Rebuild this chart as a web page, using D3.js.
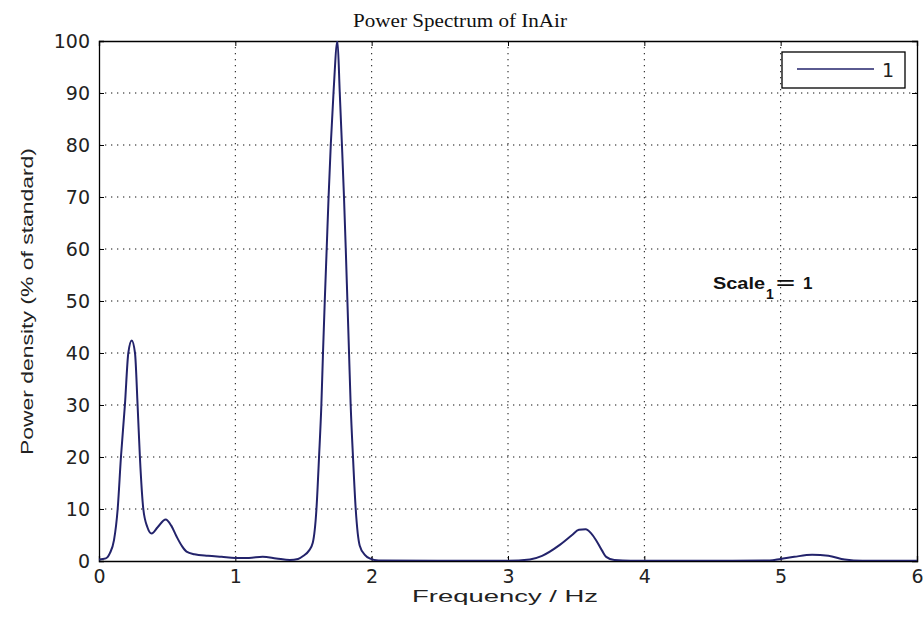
<!DOCTYPE html>
<html>
<head>
<meta charset="utf-8">
<script src="https://cdn.jsdelivr.net/npm/d3@7"></script>
<style>
    body { margin: 0; background: #fff; }
    .tick text { font-family: "DejaVu Sans", Arial, sans-serif; font-size: 19px; fill: #222; }
    .grid line { stroke: #111; stroke-dasharray: 1.3,4.7; }
</style>
</head>
<body>
<div id="chart"></div>
<script>
// frequency (Hz) and power density (% of standard)
var freq = [0.00, 0.05, 0.08, 0.11, 0.137, 0.161, 0.19, 0.215, 0.24, 0.264, 0.283, 0.30, 0.325, 0.355, 0.386,
    0.43, 0.489, 0.53, 0.569, 0.61, 0.642, 0.70, 0.80, 0.90, 1.00, 1.10, 1.20, 1.30, 1.40, 1.46, 1.50, 1.54,
    1.568, 1.595, 1.614, 1.631, 1.643, 1.656, 1.670, 1.684, 1.700, 1.720, 1.749, 1.766, 1.782, 1.797, 1.81,
    1.822, 1.834, 1.846, 1.863, 1.883, 1.912, 1.95, 1.985, 2.05, 2.5, 3.0, 3.16, 3.25, 3.38, 3.47, 3.52, 3.57,
    3.61, 3.646, 3.69, 3.72, 3.78, 3.9, 4.5, 4.92, 5.0, 5.1, 5.23, 5.35, 5.47, 5.6, 6.0];
var power = [0.3, 0.5, 1.5, 4, 10, 20, 30, 40, 42.4, 40, 30, 20, 10, 6.5, 5.3,
    6.5, 8.0, 6.8, 4.7, 2.8, 1.8, 1.3, 1.0, 0.8, 0.6, 0.6, 0.8, 0.5, 0.2, 0.4, 1.0, 2.0,
    3.5, 10, 20, 30, 40, 50, 60, 70, 80, 90, 100, 90, 80, 70, 60,
    50, 40, 30, 20, 10, 3, 1.2, 0.5, 0.1, 0.05, 0.05, 0.3, 1.0, 3.1, 5.0, 6.0, 6.1,
    5.3, 4.0, 2.0, 0.8, 0.2, 0.05, 0.05, 0.1, 0.4, 0.8, 1.2, 1.0, 0.3, 0.05, 0.05];
var xTicks = [0, 1, 2, 3, 4, 5, 6];
var yTicks = [0, 10, 20, 30, 40, 50, 60, 70, 80, 90, 100];
var legendLabels = ["1"];

var width = 923, height = 623;
var margin = { top: 41, right: 6, bottom: 62, left: 99 };
var w = width - margin.left - margin.right;
var h = height - margin.top - margin.bottom;
var lineColor = "#23236b";

var svg = d3.select("#chart").append("svg")
    .attr("width", width)
    .attr("height", height)
    .style("font-family", "Liberation Sans, Arial, sans-serif");

var g = svg.append("g")
    .attr("transform", "translate(" + margin.left + "," + margin.top + ")");

var x = d3.scaleLinear().domain([0, 6]).range([0, w]);
var y = d3.scaleLinear().domain([0, 100]).range([h, 0]);

// dotted grid
g.append("g").attr("class", "grid")
    .selectAll("line").data(xTicks.slice(1, -1)).enter().append("line")
    .attr("x1", function (d) { return x(d); }).attr("x2", function (d) { return x(d); })
    .attr("y1", 0).attr("y2", h);
g.append("g").attr("class", "grid")
    .selectAll("line").data(yTicks.slice(1, -1)).enter().append("line")
    .attr("x1", 0).attr("x2", w)
    .attr("y1", function (d) { return y(d); }).attr("y2", function (d) { return y(d); });

// axes, ticks pointing inward like matlab
g.append("g")
    .attr("transform", "translate(0," + h + ")")
    .call(d3.axisBottom(x).tickValues(xTicks).tickSize(-5).tickPadding(9).tickFormat(d3.format("d")));
g.append("g")
    .call(d3.axisLeft(y).tickValues(yTicks).tickSize(-5).tickPadding(9).tickFormat(d3.format("d")));
g.append("g")
    .call(d3.axisTop(x).tickValues(xTicks).tickSize(-5).tickFormat(""));
g.append("g")
    .attr("transform", "translate(" + w + ",0)")
    .call(d3.axisRight(y).tickValues(yTicks).tickSize(-5).tickFormat(""));
g.selectAll(".domain").attr("stroke", "#000").attr("stroke-width", 1.3);
g.selectAll(".tick line").attr("stroke", "#000");

// spectrum line
var pts = freq.map(function (f, i) { return [f, power[i]]; });
g.append("defs").append("clipPath").attr("id", "clip")
    .append("rect").attr("width", w).attr("height", h);
g.append("path")
    .datum(pts)
    .attr("clip-path", "url(#clip)")
    .attr("fill", "none")
    .attr("stroke", lineColor)
    .attr("stroke-width", 2)
    .attr("d", d3.line()
        .x(function (d) { return x(d[0]); })
        .y(function (d) { return y(d[1]); })
        .curve(d3.curveMonotoneX));

// title and axis labels (stretched a bit, the original font is wide)
svg.append("text")
    .attr("x", 353).attr("y", 27)
    .attr("textLength", 214).attr("lengthAdjust", "spacingAndGlyphs")
    .style("font-family", "Liberation Serif, Times New Roman, serif")
    .style("font-size", "18px").style("fill", "#111")
    .text("Power Spectrum of InAir");

svg.append("text")
    .attr("x", 412).attr("y", 602)
    .attr("textLength", 186).attr("lengthAdjust", "spacingAndGlyphs")
    .style("font-size", "17px").style("fill", "#222")
    .text("Frequency / Hz");

svg.append("text")
    .attr("transform", "translate(33,455) rotate(-90)")
    .attr("textLength", 307).attr("lengthAdjust", "spacingAndGlyphs")
    .style("font-size", "17px").style("fill", "#222")
    .text("Power density (% of standard)");

// legend
var legend = svg.append("g").attr("transform", "translate(782,52)");
legend.append("rect")
    .attr("width", 123).attr("height", 36)
    .attr("fill", "#fff").attr("stroke", "#000").attr("stroke-width", 1.3);
legend.selectAll("g.item").data(legendLabels).enter().append("g").attr("class", "item")
    .each(function (d) {
        var it = d3.select(this);
        it.append("line")
            .attr("x1", 15).attr("x2", 92).attr("y1", 17).attr("y2", 17)
            .attr("stroke", lineColor).attr("stroke-width", 1.5);
        it.append("text")
            .attr("x", 100).attr("y", 25)
            .style("font-family", "DejaVu Sans, sans-serif")
            .style("font-size", "19px").style("fill", "#222")
            .text(d);
    });

// scale annotation
var note = svg.append("g").style("font-weight", "bold").style("fill", "#111")
    .style("font-size", "17px");
note.append("text").attr("x", 713).attr("y", 289)
    .attr("textLength", 52).attr("lengthAdjust", "spacingAndGlyphs")
    .text("Scale");
note.append("text").attr("x", 766).attr("y", 299)
    .style("font-size", "14px").text("1");
note.append("text").attr("x", 776).attr("y", 289)
    .attr("textLength", 19).attr("lengthAdjust", "spacingAndGlyphs")
    .text("=");
note.append("text").attr("x", 803).attr("y", 289)
    .text("1");
</script>
</body>
</html>
